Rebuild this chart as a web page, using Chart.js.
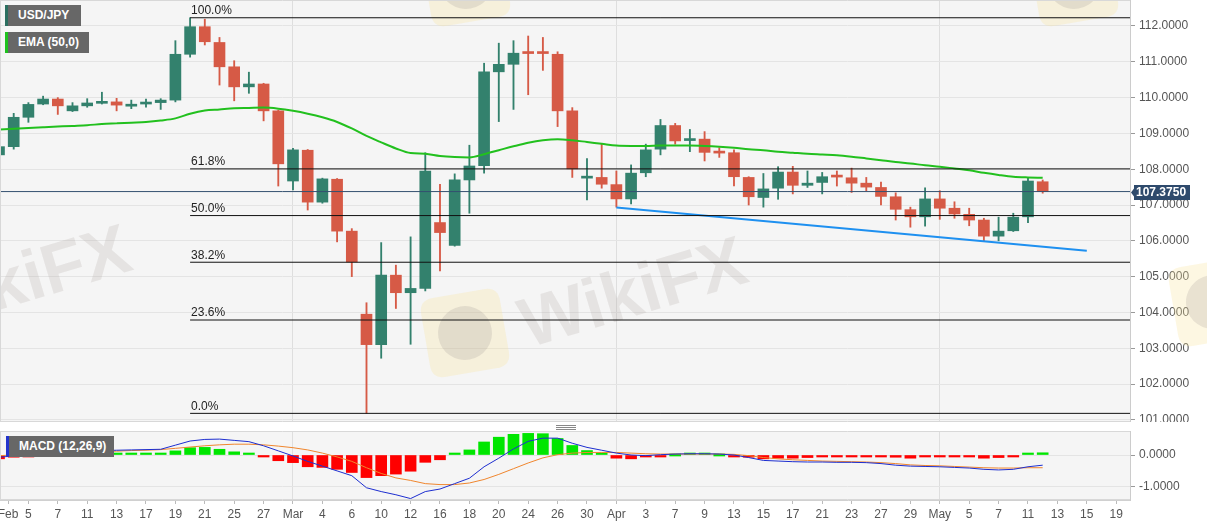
<!DOCTYPE html>
<html><head><meta charset="utf-8">
<script src="https://cdn.jsdelivr.net/npm/chart.js@4.4.1/dist/chart.umd.min.js"></script>
<style>
html,body{margin:0;padding:0;background:#fff;width:1207px;height:526px;overflow:hidden;font-family:Arial,"Liberation Sans",sans-serif;}
#wrap{position:relative;width:1207px;height:526px;}
#c1{position:absolute;left:0;top:0;}
#c2{position:absolute;left:0;top:431px;}
.tag{position:absolute;height:21px;line-height:21px;background:#676767;color:#fff;font-size:12px;font-weight:bold;box-sizing:border-box;padding-left:10px;white-space:nowrap;}
.handle{position:absolute;left:556px;width:20px;height:1px;background:#888;}
</style></head>
<body><div id="wrap">
<canvas id="c1" width="1207" height="422"></canvas>
<canvas id="c2" width="1207" height="95"></canvas>
<div class="tag" style="left:5px;top:5px;width:76px;border-left:3px solid #2b6f60;">USD/JPY</div>
<div class="tag" style="left:5px;top:32px;width:84px;border-left:3px solid #1ec21e;">EMA (50,0)</div>
<div class="tag" style="left:6px;top:436px;width:108px;border-left:3px solid #2233cc;">MACD (12,26,9)</div>
<div class="handle" style="top:425px"></div>
<div class="handle" style="top:427px"></div>
<div class="handle" style="top:429px"></div>
</div>
<script>
// ---- data (x = trading-day index, Feb 3 2020 = 0) ----
const tickLabels = ["Feb","5","7","11","13","17","19","21","25","27","Mar","4","6","10","12","16","18","20","24","26","30","Apr","3","7","9","13","15","17","21","23","27","29","May","5","7","11","13","15","19"];
const monthTicks = ["Mar","Apr","May"];
const open  = [108.40,108.63,109.45,109.82,109.96,109.63,109.77,109.84,109.88,109.76,109.82,109.86,109.93,111.21,111.98,111.54,110.86,110.30,110.38,109.63,
               107.67,108.53,107.08,107.72,106.27,103.95,103.10,105.04,104.55,104.67,106.51,105.87,107.70,108.10,110.72,110.93,111.25,111.25,111.21,109.63,107.75,107.77,
               107.57,107.17,107.90,108.56,109.22,108.80,108.84,108.47,108.46,107.77,107.21,107.47,107.92,107.55,107.63,107.80,107.76,107.61,107.49,107.23,106.87,106.67,
               107.17,106.91,106.74,106.58,106.13,106.28,106.67,107.65];
const high  = [108.81,109.56,109.86,110.04,110.00,109.86,109.97,110.15,109.98,109.93,109.96,109.97,111.59,112.23,112.19,111.68,111.03,110.71,110.40,109.65,
               108.58,108.55,107.75,107.74,106.34,104.27,105.95,105.32,106.11,108.46,107.58,107.87,108.67,110.96,111.52,111.59,111.72,111.68,111.28,109.72,108.30,108.72,
               107.95,108.12,108.70,109.39,109.28,109.11,109.05,108.60,108.54,107.79,107.88,108.07,108.08,107.95,107.91,107.95,108.03,107.77,107.64,107.34,106.94,107.48,
               107.40,107.09,106.91,106.63,106.66,106.77,107.75,107.70];
const low   = [108.30,108.56,109.31,109.80,109.53,109.61,109.73,109.82,109.63,109.69,109.73,109.67,109.88,111.13,111.47,110.35,109.91,110.12,109.35,107.53,
               107.42,106.86,107.05,105.97,105.00,101.18,102.72,104.11,103.11,104.60,105.16,105.85,106.77,107.89,109.33,109.67,110.08,110.76,109.19,107.77,107.14,107.47,
               106.94,107.03,107.79,108.40,108.70,108.49,108.23,108.33,107.53,107.00,106.94,107.16,107.31,107.49,107.31,107.53,107.35,107.40,107.00,106.58,106.38,106.41,
               106.60,106.63,106.42,106.00,106.00,106.26,106.51,107.33];
const close = [108.63,109.45,109.81,109.96,109.77,109.77,109.85,109.89,109.79,109.78,109.84,109.93,111.21,111.98,111.56,110.86,110.30,110.38,109.63,108.15,
               108.54,107.08,107.73,106.27,105.41,103.10,105.04,104.55,104.67,107.95,106.23,107.70,108.09,110.72,110.93,111.24,111.23,111.23,109.63,108.01,107.77,107.58,
               107.17,107.89,108.54,109.22,108.79,108.82,108.47,108.45,107.79,107.23,107.45,107.92,107.55,107.61,107.79,107.78,107.61,107.50,107.24,106.88,106.67,107.17,
               106.91,106.75,106.58,106.13,106.27,106.66,107.67,107.375];
const ema50 = [109.11,109.13,109.15,109.17,109.19,109.21,109.23,109.26,109.28,109.30,109.32,109.36,109.42,109.55,109.64,109.67,109.70,109.71,109.72,109.69,
               109.63,109.55,109.45,109.32,109.14,108.93,108.75,108.58,108.45,108.43,108.37,108.34,108.33,108.42,108.53,108.64,108.74,108.81,108.84,108.81,108.76,108.71,
               108.66,108.65,108.65,108.66,108.66,108.66,108.65,108.63,108.60,108.56,108.53,108.49,108.46,108.43,108.41,108.39,108.35,108.30,108.25,108.20,108.16,108.11,
               108.07,108.02,107.97,107.90,107.84,107.79,107.77,107.76];
const macdLine = [-0.07,-0.03,0.02,0.06,0.09,0.11,0.13,0.14,0.15,0.16,0.17,0.18,0.31,0.44,0.49,0.50,0.46,0.42,0.29,0.13,
                  -0.03,-0.20,-0.35,-0.50,-0.65,-1.03,-1.15,-1.25,-1.37,-1.15,-1.07,-0.90,-0.73,-0.37,-0.10,0.19,0.43,0.53,0.53,0.37,0.24,0.15,
                  0.06,0.00,-0.02,0.01,0.03,0.04,0.04,0.03,0.00,-0.08,-0.17,-0.19,-0.21,-0.22,-0.22,-0.23,-0.23,-0.24,-0.27,-0.32,-0.35,-0.36,
                  -0.37,-0.39,-0.41,-0.45,-0.47,-0.45,-0.37,-0.32];
const signalLine = [-0.02,0.00,0.02,0.04,0.06,0.08,0.10,0.11,0.12,0.14,0.15,0.17,0.21,0.25,0.29,0.32,0.34,0.34,0.32,0.28,
                    0.23,0.16,0.06,-0.06,-0.20,-0.40,-0.58,-0.72,-0.80,-0.90,-0.93,-0.93,-0.88,-0.77,-0.61,-0.43,-0.25,-0.09,0.01,0.06,0.08,0.08,
                    0.08,0.06,0.04,0.03,0.03,0.03,0.03,0.03,0.02,-0.02,-0.08,-0.12,-0.15,-0.17,-0.19,-0.20,-0.21,-0.22,-0.24,-0.27,-0.31,-0.33,
                    -0.34,-0.36,-0.38,-0.40,-0.41,-0.41,-0.40,-0.40];
const macdHist = [-0.12,-0.07,-0.03,0.01,0.02,0.02,0.03,0.03,0.03,0.03,0.02,0.03,0.13,0.23,0.24,0.18,0.10,0.03,-0.03,-0.18,
                  -0.24,-0.37,-0.39,-0.45,-0.55,-0.71,-0.65,-0.60,-0.51,-0.23,-0.15,0.02,0.16,0.41,0.56,0.65,0.68,0.67,0.52,0.30,0.14,0.03,
                  -0.10,-0.12,-0.06,-0.01,0.00,0.01,0.01,0.00,-0.04,-0.07,-0.12,-0.10,-0.10,-0.08,-0.05,-0.05,-0.05,-0.06,-0.06,-0.07,-0.10,-0.06,
                  -0.06,-0.06,-0.06,-0.10,-0.08,-0.05,0.03,0.07];
const fibLevels = [100, 61.8, 50, 38.2, 23.6, 0];
const swingHigh = 112.23, swingLow = 101.18, swingDay = 13;
const trendDays = [42, 74];
const trendPrices = [106.93, 105.72];
const priceTicks = [101,102,103,104,105,106,107,108,109,110,111,112];
const macdTicks = [0, -1];
const watermarkText = "WikiFX";

// ---- layout constants ----
const X_MIN = 0.068, X_MAX = 76.94;
const Y_MIN = 100.939, Y_MAX = 112.726;
const M_MIN = -1.415, M_MAX = 0.755;
const FONT = 'Arial, "Liberation Sans", sans-serif';
const UP = '#33816d', DOWN = '#d65a46';
const tickPos = tickLabels.map((_, k) => k === 0 ? 0.62 : 2 * k);
const monthPos = tickPos.filter((_, k) => monthTicks.includes(tickLabels[k]));
const lastClose = close[close.length - 1];
const candleColors = close.map((c, i) => c >= open[i] ? UP : DOWN);

function rrect(ctx, x, y, w, h, r) {
  ctx.beginPath();
  ctx.moveTo(x + r, y); ctx.lineTo(x + w - r, y); ctx.quadraticCurveTo(x + w, y, x + w, y + r);
  ctx.lineTo(x + w, y + h - r); ctx.quadraticCurveTo(x + w, y + h, x + w - r, y + h);
  ctx.lineTo(x + r, y + h); ctx.quadraticCurveTo(x, y + h, x, y + h - r);
  ctx.lineTo(x, y + r); ctx.quadraticCurveTo(x, y, x + r, y); ctx.closePath();
}
function logo(ctx, cx, cy) {
  ctx.save(); ctx.translate(cx, cy); ctx.rotate(-0.17);
  ctx.fillStyle = 'rgba(250,228,160,0.30)'; rrect(ctx, -40, -40, 80, 80, 14); ctx.fill();
  ctx.fillStyle = 'rgba(150,140,140,0.20)';
  ctx.beginPath(); ctx.arc(0, 0, 27, 0, Math.PI * 2); ctx.fill();
  ctx.restore();
}
function wmText(ctx, x, y) {
  ctx.save(); ctx.translate(x, y); ctx.rotate(-0.29);
  ctx.font = 'bold 70px ' + FONT; ctx.fillStyle = 'rgba(175,165,160,0.22)';
  ctx.textBaseline = 'alphabetic'; ctx.textAlign = 'left';
  ctx.fillText(watermarkText, 0, 0); ctx.restore();
}

const bgPlugin = {
  id: 'bg',
  beforeDraw(chart) {
    const {ctx, chartArea: a} = chart;
    ctx.save(); ctx.fillStyle = '#f5f5f5';
    ctx.fillRect(a.left, a.top, a.right - a.left, a.bottom - a.top); ctx.restore();
  },
  afterDraw(chart) {
    const {ctx, chartArea: a} = chart;
    ctx.save(); ctx.strokeStyle = '#d8d8d8'; ctx.lineWidth = 1;
    ctx.beginPath();
    ctx.moveTo(a.left, a.top + 0.5); ctx.lineTo(a.right, a.top + 0.5);
    ctx.moveTo(a.left, a.bottom - 0.5); ctx.lineTo(a.right, a.bottom - 0.5);
    ctx.moveTo(a.left + 0.5, a.top); ctx.lineTo(a.left + 0.5, a.bottom);
    ctx.stroke(); ctx.restore();
  }
};

const watermarkPlugin = {
  id: 'wm',
  beforeDatasetsDraw(chart) {
    const {ctx} = chart;
    logo(ctx, 466, -18); logo(ctx, 1074, -18); logo(ctx, 465, 333); logo(ctx, 1213, 302);
    wmText(ctx, 528, 348); wmText(ctx, -88, 336);
  }
};

const overlayPlugin = {
  id: 'overlay',
  afterDatasetsDraw(chart) {
    const {ctx} = chart; const xs = chart.scales.x, ys = chart.scales.y;
    ctx.save();
    ctx.font = '12px ' + FONT; ctx.fillStyle = '#222'; ctx.textBaseline = 'bottom'; ctx.textAlign = 'left';
    const x0 = xs.getPixelForValue(swingDay) + 1;
    fibLevels.forEach(l => {
      const p = swingLow + l / 100 * (swingHigh - swingLow);
      ctx.fillText(l.toFixed(1) + '%', x0, ys.getPixelForValue(p) - 1);
    });
    ctx.restore();
  },
  afterDraw(chart) {
    const {ctx, chartArea: a} = chart; const ys = chart.scales.y;
    const y = Math.round(ys.getPixelForValue(lastClose)) + 0.5;
    ctx.save();
    ctx.fillStyle = '#2e4a6c';
    ctx.beginPath();
    ctx.moveTo(a.right + 1, y);
    ctx.lineTo(a.right + 4, y - 4);
    ctx.lineTo(a.right + 4, y - 7.5);
    ctx.lineTo(a.right + 60, y - 7.5);
    ctx.lineTo(a.right + 60, y + 7.5);
    ctx.lineTo(a.right + 4, y + 7.5);
    ctx.lineTo(a.right + 4, y + 4);
    ctx.closePath(); ctx.fill();
    ctx.fillStyle = '#fff'; ctx.font = 'bold 12px ' + FONT;
    ctx.textAlign = 'left'; ctx.textBaseline = 'middle';
    ctx.fillText(lastClose.toFixed(4), a.right + 6, y + 0.5);
    ctx.restore();
  }
};

const gridColor = c => monthPos.some(p => Math.abs(p - c.tick.value) < 1e-6) ? '#dedede' : 'rgba(0,0,0,0)';
const setTicks = arr => s => { s.ticks = arr.map(v => ({value: v})); };

const lineDs = (data, color, width, extra) => Object.assign({
  type: 'line', data, borderColor: color, borderWidth: width, pointRadius: 0, fill: false, order: 0
}, extra || {});

const fibDatasets = fibLevels.map(l => {
  const p = swingLow + l / 100 * (swingHigh - swingLow);
  return lineDs([{x: swingDay, y: p}, {x: X_MAX, y: p}], '#111', 1);
});

new Chart(document.getElementById('c1'), {
  type: 'bar',
  data: {
    datasets: [
      ...fibDatasets,
      lineDs([{x: X_MIN, y: lastClose}, {x: X_MAX, y: lastClose}], '#34506f', 1),
      lineDs(trendDays.map((d, k) => ({x: d, y: trendPrices[k]})), '#1e90f0', 2),
      lineDs(ema50.map((v, i) => ({x: i, y: v})), '#22c01e', 2, {cubicInterpolationMode: 'monotone'}),
      {type: 'bar', data: open.map((o, i) => ({x: i, y: [o, close[i]]})), backgroundColor: candleColors,
       barThickness: 11, minBarLength: 2, grouped: false, order: 5},
      {type: 'bar', data: low.map((l, i) => ({x: i, y: [l, high[i]]})), backgroundColor: candleColors,
       barThickness: 1.2, grouped: false, order: 6}
    ]
  },
  options: {
    responsive: false, animation: false, devicePixelRatio: 1,
    layout: {padding: 0},
    plugins: {legend: {display: false}, tooltip: {enabled: false}},
    scales: {
      x: {type: 'linear', min: X_MIN, max: X_MAX, offset: false,
          grid: {offset: false, color: gridColor, drawTicks: false},
          border: {display: false}, ticks: {display: false},
          afterBuildTicks: setTicks(tickPos),
          afterFit: s => { s.height = 0; s.paddingLeft = 0; s.paddingRight = 0; }},
      y: {type: 'linear', position: 'right', min: Y_MIN, max: Y_MAX, beginAtZero: false,
          afterBuildTicks: setTicks(priceTicks),
          ticks: {callback: v => v.toFixed(4), color: '#555', font: {size: 12, family: FONT}, padding: 4},
          grid: {color: '#e4e4e4', tickColor: '#999', tickLength: 5},
          border: {color: '#cccccc'},
          afterFit: s => { s.width = 77; s.paddingTop = 0; s.paddingBottom = 0; }}
    }
  },
  plugins: [bgPlugin, watermarkPlugin, overlayPlugin]
});

new Chart(document.getElementById('c2'), {
  type: 'bar',
  data: {
    datasets: [
      lineDs(macdLine.map((v, i) => ({x: i, y: v})), '#1d2ed0', 1),
      lineDs(signalLine.map((v, i) => ({x: i, y: v})), '#f0862e', 1, {order: 1}),
      {type: 'bar', data: macdHist.map((v, i) => ({x: i, y: v})),
       backgroundColor: macdHist.map(v => v >= 0 ? '#00e600' : '#ff0000'),
       barThickness: 11, minBarLength: 2, grouped: false, order: 5}
    ]
  },
  options: {
    responsive: false, animation: false, devicePixelRatio: 1,
    layout: {padding: 0},
    plugins: {legend: {display: false}, tooltip: {enabled: false}},
    scales: {
      x: {type: 'linear', min: X_MIN, max: X_MAX, offset: false,
          grid: {offset: false, color: gridColor, tickColor: '#bbb', tickLength: 4},
          border: {color: '#d0d0d0'},
          ticks: {autoSkip: false, maxRotation: 0, color: '#555', font: {size: 12, family: FONT}, padding: 3,
                  callback: (v, k) => tickLabels[k]},
          afterBuildTicks: setTicks(tickPos),
          afterFit: s => { s.height = 26; s.paddingLeft = 0; s.paddingRight = 0; }},
      y: {type: 'linear', position: 'right', min: M_MIN, max: M_MAX, beginAtZero: false,
          afterBuildTicks: setTicks(macdTicks),
          ticks: {callback: v => v.toFixed(4), color: '#555', font: {size: 12, family: FONT}, padding: 4},
          grid: {color: '#e4e4e4', tickColor: '#999', tickLength: 5},
          border: {color: '#cccccc'},
          afterFit: s => { s.width = 77; s.paddingTop = 0; s.paddingBottom = 0; }}
    }
  },
  plugins: [bgPlugin]
});
</script>
</body></html>
